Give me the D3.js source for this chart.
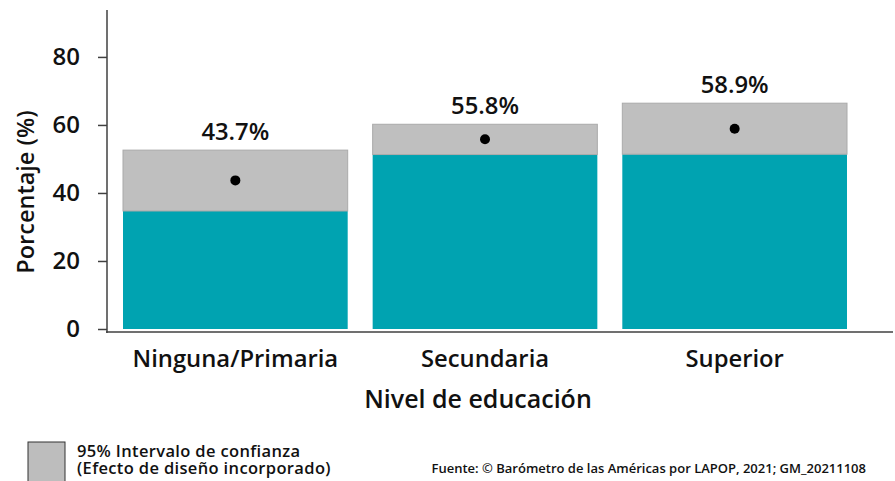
<!DOCTYPE html>
<html><head><meta charset="utf-8">
<script src="https://cdn.jsdelivr.net/npm/d3@7"></script>
<style>
body{margin:0;background:#fff;}
svg{display:block;font-family:"Open Sans",sans-serif;}
</style></head>
<body>
<svg id="chart" width="895" height="481"></svg>
<script>
const categories = ["Ninguna/Primaria", "Secundaria", "Superior"];
const means = [43.7, 55.8, 58.9];
const ciLow = [34.7, 51.3, 51.4];
const ciHigh = [52.6, 60.2, 66.4];
const yTicks = [0, 20, 40, 60, 80];

const svg = d3.select("#chart");
const y = d3.scaleLinear().domain([0, 93.8]).range([329, 10]);
const x = d3.scaleBand().domain(categories).range([123, 847]).paddingInner(0.1).paddingOuter(0);

const teal = "#00A3B1", gray = "#BFBFBF";
const data = categories.map((c, i) => ({c, m: means[i], lo: ciLow[i], hi: ciHigh[i]}));

// teal bars (up to CI lower bound)
svg.selectAll("rect.base").data(data).join("rect")
  .attr("x", d => x(d.c)).attr("width", x.bandwidth())
  .attr("y", d => y(d.lo)).attr("height", d => y(0) - y(d.lo))
  .attr("fill", teal);
// gray CI
svg.selectAll("rect.ci").data(data).join("rect")
  .attr("x", d => x(d.c)).attr("width", x.bandwidth())
  .attr("y", d => y(d.hi)).attr("height", d => y(d.lo) - y(d.hi))
  .attr("fill", gray).attr("stroke", "#AAAAAA").attr("stroke-width", 1);
// mean dots
svg.selectAll("circle.m").data(data).join("circle")
  .attr("cx", d => x(d.c) + x.bandwidth() / 2).attr("cy", d => y(d.m))
  .attr("r", 5).attr("fill", "#000");
// value labels
svg.selectAll("text.v").data(data).join("text")
  .attr("x", d => x(d.c) + x.bandwidth() / 2).attr("y", d => y(d.hi) - 10)
  .attr("text-anchor", "middle").attr("font-size", 23.8).attr("font-weight", 600)
  .attr("fill", "#111").text(d => d.m.toFixed(1) + "%");

// y axis
const yAxis = d3.axisLeft(y).tickValues(yTicks).tickSize(9).tickSizeOuter(0).tickPadding(18);
const gy = svg.append("g").attr("transform", "translate(107,0)").call(yAxis);
gy.select(".domain").remove();
gy.selectAll(".tick line").attr("stroke", "#404040").attr("stroke-width", 1.5);
gy.selectAll(".tick text").attr("font-size", 24).attr("font-weight", 600)
  .attr("font-family", "Open Sans").attr("fill", "#111");
svg.append("line").attr("x1", 107).attr("x2", 107).attr("y1", y.range()[1]).attr("y2", 333)
  .attr("stroke", "#404040").attr("stroke-width", 1.5);

// x axis
const xAxis = d3.axisBottom(x).tickSize(0).tickPadding(0);
const gx = svg.append("g").attr("transform", "translate(0,332)").call(xAxis);
gx.select(".domain").remove();
gx.selectAll(".tick text").attr("dy", null).attr("y", 35).attr("font-size", 23.8).attr("font-weight", 600)
  .attr("font-family", "Open Sans").attr("fill", "#111");
svg.append("line").attr("x1", 106).attr("x2", 893).attr("y1", 332).attr("y2", 332)
  .attr("stroke", "#404040").attr("stroke-width", 1.5);

// axis titles
svg.append("text").attr("x", 478).attr("y", 408).attr("text-anchor", "middle")
  .attr("font-size", 25).attr("font-weight", 600).attr("fill", "#111").text("Nivel de educación");
svg.append("text").attr("transform", "translate(34,192) rotate(-90)").attr("text-anchor", "middle")
  .attr("font-size", 23.5).attr("font-weight", 600).attr("fill", "#111").text("Porcentaje (%)");

// legend
svg.append("rect").attr("x", 28).attr("y", 442).attr("width", 37).attr("height", 45)
  .attr("fill", "#BDBDBD").attr("stroke", "#333").attr("stroke-width", 1);
const lt = svg.append("text").attr("x", 77).attr("y", 456.5).attr("font-size", 16.5).attr("font-weight", 600)
  .attr("letter-spacing", 0.35).attr("fill", "#111");
lt.append("tspan").attr("x", 77).text("95% Intervalo de confianza");
lt.append("tspan").attr("x", 77).attr("dy", 17).text("(Efecto de diseño incorporado)");
svg.append("text").attr("x", 866).attr("y", 473).attr("text-anchor", "end").attr("font-size", 13)
  .attr("font-weight", 600).attr("fill", "#111")
  .text("Fuente: © Barómetro de las Américas por LAPOP, 2021; GM_20211108");
</script>
</body></html>
